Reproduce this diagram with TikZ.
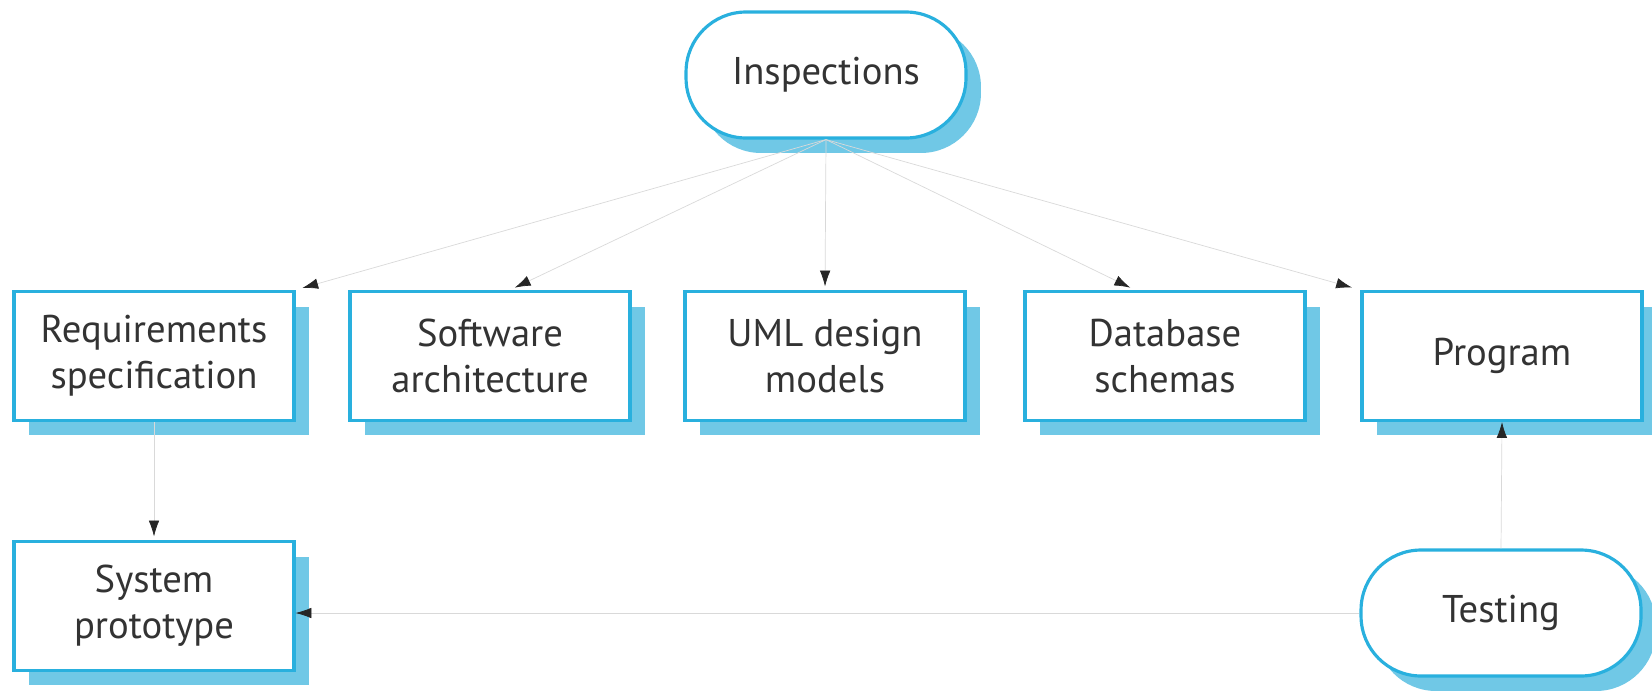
\documentclass[tikz,border=0pt]{standalone}
\usepackage{fontspec}
\setmainfont{PT Sans}
\usetikzlibrary{arrows.meta,shadows}
\definecolor{boxblue}{RGB}{41,176,222}
\definecolor{boxshade}{RGB}{112,200,230}
\begin{document}
\begin{tikzpicture}[x=0.02cm, y=-0.02cm,
                    font=\fontsize{22}{26}\selectfont,
                    line width=1.8pt]
    \tikzstyle{artefact}=[rectangle, draw=boxblue, fill=white, text=black!80, align=center,
                          minimum width=5.6cm, minimum height=2.58cm,
                          drop shadow={shadow xshift=0.3cm, shadow yshift=-0.3cm, fill=boxshade, opacity=1}]
    \tikzstyle{activity}=[artefact, rounded corners=1.2cm, minimum width=5.6cm, minimum height=2.52cm]
    \tikzstyle{link}=[draw=black!15, line width=0.4pt, -{Latex[color=black!85, length=9pt, width=6pt]}]

    \useasboundingbox (0,0) rectangle (1652,690);

    \node[activity] (insp) at (826,75) {Inspections};
    \node[artefact] (req) at (154,356) {Requirements\\specification};
    \node[artefact] (arch) at (490,356) {Software\\architecture};
    \node[artefact] (uml) at (825,356) {UML design\\models};
    \node[artefact] (db) at (1165,356) {Database\\schemas};
    \node[artefact] (prog) at (1502,356) {Program};
    \node[artefact] (proto) at (154,606) {System\\prototype};
    \node[activity] (test) at (1501,613) {Testing};

    \draw[link, shorten >=4pt] (insp.south) -- (req.north east);
    \draw[link, shorten >=3pt] (insp.south) -- ([xshift=0.4cm]arch.north);
    \draw[link, shorten >=2pt] (insp.south) -- (uml.north);
    \draw[link, shorten >=3pt] (insp.south) -- ([xshift=-0.6cm]db.north);
    \draw[link, shorten >=5pt] (insp.south) -- (prog.north west);
    \draw[link, shorten >=2pt] (req.south) -- (proto.north);
    \draw[link] (test.north) -- (prog.south);
    \draw[link] (test.west) -- (test.west -| proto.east);
\end{tikzpicture}
\end{document}
